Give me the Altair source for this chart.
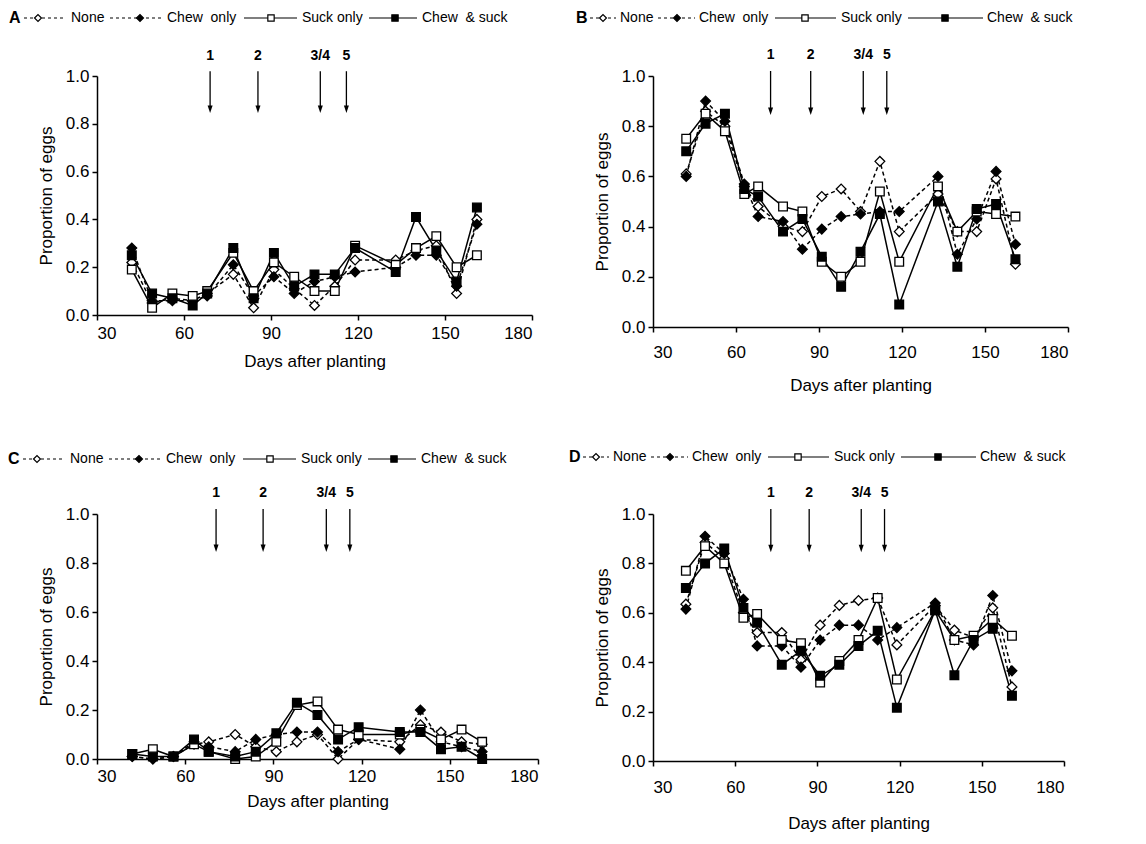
import altair as alt
import pandas as pd

FONT = "Liberation Sans"

DAYS = [42, 49, 56, 63, 68, 77, 84, 91, 98, 105, 112, 119, 133, 140, 147, 154, 161]
TREATMENTS = ["None", "Chew\u00a0 only", "Suck only", "Chew\u00a0 & suck"]
X_TICKS = [30, 60, 90, 120, 150, 180]
Y_TICKS = [0.0, 0.2, 0.4, 0.6, 0.8, 1.0]
ARROW_LABELS = ["1", "2", "3/4", "5"]

# Panel A
A_NONE = [0.22, 0.05, 0.07, 0.06, 0.09, 0.17, 0.03, 0.19, 0.11, 0.04, 0.12, 0.23, 0.23, 0.27, 0.29, 0.09, 0.40]
A_CHEW = [0.28, 0.06, 0.06, 0.06, 0.08, 0.21, 0.08, 0.16, 0.09, 0.14, 0.16, 0.18, 0.20, 0.25, 0.25, 0.12, 0.38]
A_SUCK = [0.19, 0.03, 0.09, 0.08, 0.10, 0.26, 0.10, 0.22, 0.16, 0.10, 0.10, 0.29, 0.21, 0.28, 0.33, 0.20, 0.25]
A_BOTH = [0.25, 0.09, 0.07, 0.04, 0.09, 0.28, 0.07, 0.26, 0.12, 0.17, 0.17, 0.28, 0.18, 0.41, 0.27, 0.14, 0.45]
A_ARROWS = [69, 85.5, 107, 116]

# Panel B
B_NONE = [0.61, 0.86, 0.80, 0.56, 0.48, 0.40, 0.38, 0.52, 0.55, 0.46, 0.66, 0.38, 0.53, 0.38, 0.38, 0.59, 0.25]
B_CHEW = [0.60, 0.90, 0.82, 0.57, 0.44, 0.42, 0.31, 0.39, 0.44, 0.45, 0.46, 0.46, 0.60, 0.29, 0.43, 0.62, 0.33]
B_SUCK = [0.75, 0.85, 0.78, 0.53, 0.56, 0.48, 0.46, 0.26, 0.20, 0.26, 0.54, 0.26, 0.56, 0.38, 0.46, 0.45, 0.44]
B_BOTH = [0.70, 0.81, 0.85, 0.55, 0.52, 0.38, 0.43, 0.28, 0.16, 0.30, 0.45, 0.09, 0.50, 0.24, 0.47, 0.49, 0.27]
B_ARROWS = [72.5, 87, 106, 114.5]

# Panel C
C_NONE = [0.01, 0.00, 0.01, 0.06, 0.07, 0.10, 0.05, 0.03, 0.07, 0.10, 0.00, 0.08, 0.07, 0.14, 0.11, 0.07, 0.06]
C_CHEW = [0.01, 0.00, 0.01, 0.07, 0.05, 0.03, 0.08, 0.10, 0.11, 0.11, 0.03, 0.08, 0.04, 0.20, 0.07, 0.05, 0.03]
C_SUCK = [0.02, 0.04, 0.01, 0.06, 0.03, 0.00, 0.01, 0.07, 0.22, 0.235, 0.12, 0.10, 0.10, 0.12, 0.08, 0.12, 0.07]
C_BOTH = [0.02, 0.01, 0.01, 0.08, 0.03, 0.01, 0.03, 0.105, 0.23, 0.18, 0.08, 0.13, 0.11, 0.11, 0.04, 0.05, 0.00]
C_ARROWS = [70.5, 86.5, 108, 116]

# Panel D
D_NONE = [0.635, 0.885, 0.82, 0.60, 0.52, 0.52, 0.41, 0.55, 0.63, 0.65, 0.66, 0.47, 0.63, 0.53, 0.50, 0.62, 0.30]
D_CHEW = [0.615, 0.91, 0.84, 0.655, 0.466, 0.466, 0.38, 0.49, 0.55, 0.55, 0.49, 0.54, 0.64, 0.49, 0.47, 0.67, 0.365]
D_SUCK = [0.77, 0.87, 0.80, 0.58, 0.595, 0.49, 0.477, 0.318, 0.405, 0.49, 0.66, 0.33, 0.61, 0.49, 0.507, 0.575, 0.507]
D_BOTH = [0.70, 0.80, 0.86, 0.62, 0.56, 0.39, 0.446, 0.345, 0.39, 0.466, 0.527, 0.216, 0.61, 0.347, 0.49, 0.535, 0.264]
D_ARROWS = [73, 87, 106, 114.5]

# styles
DASHES = [[4, 3], [4, 3], None, None]
SHAPES = ["diamond", "diamond", "square", "square"]
FILLS = ["white", "black", "white", "black"]
SIZES = [95, 95, 75, 75]
LEG_SIZES = [48, 48, 40, 40]
ARROW_HEAD = "M-1,-3L1,-3L0,0Z"

# legend layouts (pixels, relative to the panel letter): line span, marker, text start
LAYOUT_AC = {"line": [(15, 56), (101, 153), (235, 288), (360, 408)],
             "mark": [29, 131, 262, 386],
             "text": [62, 158, 293, 413]}
LAYOUT_BD = {"line": [(14, 40), (82, 119), (199, 260), (332, 407)],
             "mark": [27, 101, 229, 369],
             "text": [44, 123, 265, 411]}


def make_panel(letter, series, arrows, w, h, lx, ly, layout, xlabpad, xtitlepad):
    rows = []
    for t, vals in zip(TREATMENTS, series):
        for d, v in zip(DAYS, vals):
            rows.append({"day": d, "value": v, "treatment": t})
    df = pd.DataFrame(rows)
    xs = alt.Scale(domain=[30, 180], nice=False)
    ys = alt.Scale(domain=[0, 1], nice=False)
    xenc = alt.X("day:Q", scale=xs,
                 axis=alt.Axis(values=X_TICKS, title="Days after planting",
                               labelPadding=xlabpad, titlePadding=xtitlepad))
    yenc = alt.Y("value:Q", scale=ys,
                 axis=alt.Axis(values=Y_TICKS, format=".1f", title="Proportion of eggs",
                               titlePadding=10, labelPadding=3))
    layers = []
    for t, dash in zip(TREATMENTS, DASHES):
        kw = dict(color="black", strokeWidth=1.5)
        if dash:
            kw["strokeDash"] = dash
        layers.append(
            alt.Chart(df).transform_filter(alt.datum.treatment == t)
            .mark_line(**kw).encode(x=xenc, y=yenc)
        )
    for t, shp, fill, size in zip(TREATMENTS, SHAPES, FILLS, SIZES):
        layers.append(
            alt.Chart(df).transform_filter(alt.datum.treatment == t)
            .mark_point(shape=shp, filled=True, fill=fill, stroke="black",
                        strokeWidth=1.3, size=size, opacity=1)
            .encode(x=xenc, y=yenc)
        )
    # treatment arrows
    adf = pd.DataFrame({"day": arrows, "label": ARROW_LABELS})
    layers.append(
        alt.Chart(adf).mark_rule(color="black", strokeWidth=1.3)
        .encode(x=alt.X("day:Q", scale=xs), y=alt.datum(1.02), y2=alt.datum(0.87))
    )
    layers.append(
        alt.Chart(adf).mark_point(shape=ARROW_HEAD, filled=True, color="black",
                                  size=25, opacity=1)
        .encode(x=alt.X("day:Q", scale=xs), y=alt.datum(0.845))
    )
    layers.append(
        alt.Chart(adf).mark_text(font=FONT, fontSize=14, fontWeight="bold",
                                 color="black", baseline="middle")
        .encode(x=alt.X("day:Q", scale=xs), y=alt.datum(1.085), text="label:N")
    )
    # legend row above the panel
    one = pd.DataFrame({"k": [0]})
    layers.append(
        alt.Chart(one).mark_text(text=letter, align="left", baseline="middle", font=FONT,
                                 fontSize=16, fontWeight="bold", color="black")
        .encode(x=alt.value(lx), y=alt.value(ly))
    )
    for t, dash, shp, fill, lsize, (x0, x1), xm, xt in zip(
            TREATMENTS, DASHES, SHAPES, FILLS, LEG_SIZES,
            layout["line"], layout["mark"], layout["text"]):
        kw = dict(color="black", strokeWidth=1.2)
        if dash:
            kw["strokeDash"] = [3, 3]
        layers.append(
            alt.Chart(one).mark_rule(**kw)
            .encode(x=alt.value(lx + x0), x2=alt.value(lx + x1), y=alt.value(ly))
        )
        layers.append(
            alt.Chart(one).mark_point(shape=shp, filled=True, fill=fill, stroke="black",
                                      strokeWidth=1.2, size=lsize, opacity=1)
            .encode(x=alt.value(lx + xm), y=alt.value(ly))
        )
        layers.append(
            alt.Chart(one).mark_text(text=t, align="left", baseline="middle", font=FONT,
                                     fontSize=14, color="black")
            .encode(x=alt.value(lx + xt), y=alt.value(ly))
        )
    return alt.layer(*layers).properties(width=w, height=h)


pA = make_panel("A", [A_NONE, A_CHEW, A_SUCK, A_BOTH], A_ARROWS, 435, 239, -88, -58, LAYOUT_AC, 5, 12)
pB = make_panel("B", [B_NONE, B_CHEW, B_SUCK, B_BOTH], B_ARROWS, 415, 251, -77, -58, LAYOUT_BD, 12, 17)
pC = make_panel("C", [C_NONE, C_CHEW, C_SUCK, C_BOTH], C_ARROWS, 441, 245, -89, -55, LAYOUT_AC, 4, 9)
pD = make_panel("D", [D_NONE, D_CHEW, D_SUCK, D_BOTH], D_ARROWS, 411, 247, -84, -57, LAYOUT_BD, 13, 20)

chart = (
    alt.concat(pA, pB, pC, pD, columns=2, spacing={"row": 56, "column": 30})
    .properties(padding={"left": 0, "top": 2, "right": 0, "bottom": 4})
    .configure_view(stroke=None)
    .configure_axis(domainColor="black", tickColor="black", labelColor="black",
                    titleColor="black", labelFont=FONT, titleFont=FONT,
                    labelFontSize=17, titleFontSize=17, titleFontWeight="normal",
                    grid=False, tickSize=5, domainWidth=1.5, tickWidth=1.5)
)

chart.save("out.html", embed_options={"renderer": "svg", "actions": False})
